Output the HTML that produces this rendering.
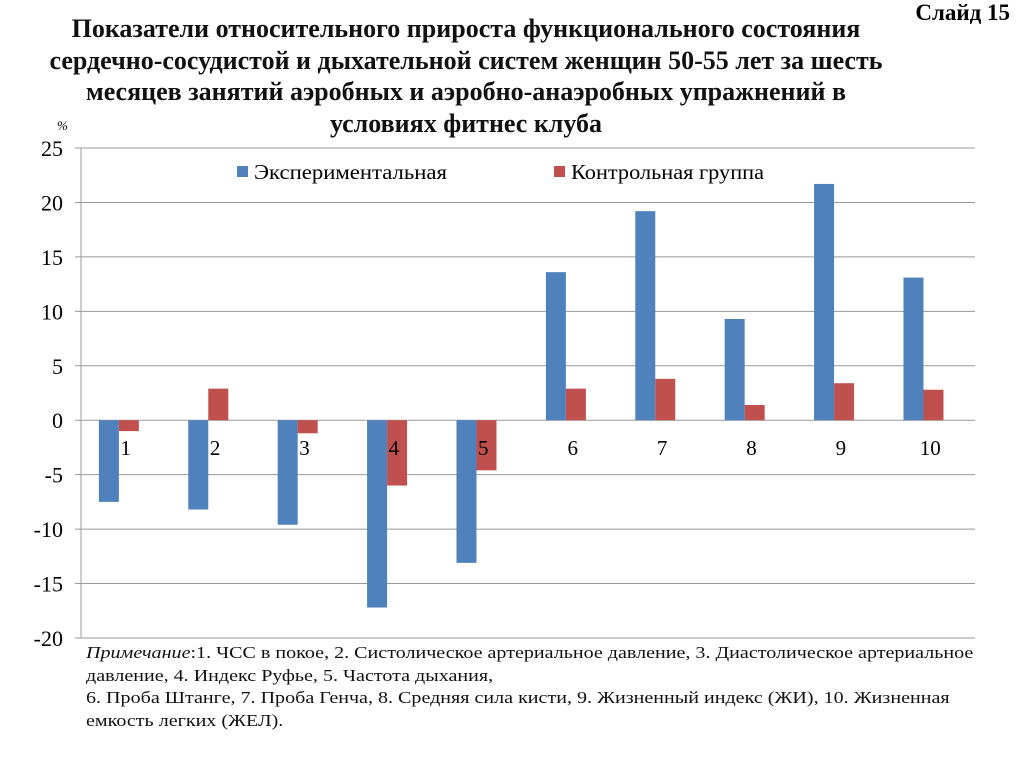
<!DOCTYPE html>
<html><head><meta charset="utf-8"><style>
body{margin:0;width:1024px;height:767px;background:#fff;overflow:hidden;font-family:"Liberation Serif",serif}
svg{position:absolute;left:0;top:0}
.title{position:absolute;left:0;top:13px;width:932px;text-align:center;font-weight:bold;font-size:26px;line-height:31.5px;color:#111;white-space:nowrap}
.slide{position:absolute;right:14px;top:0px;font-weight:bold;font-size:23px}
.note{position:absolute;left:86px;top:642px;width:760px;font-size:17px;line-height:22.5px;color:#111;white-space:nowrap;transform:scaleX(1.18);transform-origin:0 0}
</style></head><body>
<div class="title">Показатели относительного прироста функционального состояния<br>сердечно-сосудистой и дыхательной систем женщин 50-55 лет  за шесть<br>месяцев занятий аэробных и аэробно-анаэробных упражнений в<br>условиях фитнес клуба</div>
<div class="slide">Слайд 15</div>
<svg id="c" width="1024" height="767"></svg>
<div class="note"><i>Примечание</i>:1. ЧСС в покое, 2. Систолическое артериальное давление, 3. Диастолическое артериальное<br>давление, 4. Индекс Руфье, 5. Частота дыхания,<br>6. Проба Штанге,  7. Проба Генча, 8. Средняя сила кисти, 9. Жизненный индекс (ЖИ), 10. Жизненная<br>емкость легких (ЖЕЛ).</div>
<script>
const categories=["1","2","3","4","5","6","7","8","9","10"];
const experimental=[-7.5,-8.2,-9.6,-17.2,-13.1,13.6,19.2,9.3,21.7,13.1];
const control=[-1.0,2.9,-1.2,-6.0,-4.6,2.9,3.8,1.4,3.4,2.8];
const yTicks=[25,20,15,10,5,0,-5,-10,-15,-20];
const NS="http://www.w3.org/2000/svg";
const svg=document.getElementById('c');
const X0=81,X1=975,Y0=148,Y1=638,VMAX=25,VMIN=-20;
const y=v=>Y0+(VMAX-v)/(VMAX-VMIN)*(Y1-Y0);
const cw=(X1-X0)/categories.length;
const x=i=>X0+i*cw;
function mk(t,a){const e=document.createElementNS(NS,t);for(const k in a)e.setAttribute(k,a[k]);svg.appendChild(e);return e;}
yTicks.forEach(t=>{
 const l=mk('line',{x1:75,x2:X1,y1:y(t),y2:y(t),stroke:'#999','stroke-width':1});
 
 
 const tx=mk('text',{x:63,y:y(t)+8,'text-anchor':'end','font-size':22,'font-family':'Liberation Serif'});
 tx.textContent=t;
 
 
});
const ax=mk('line',{x1:X0,x2:X0,y1:Y0,y2:Y1,stroke:'#999'});


const pu=mk('text',{x:57,y:130,'font-size':13,'font-style':'italic','font-family':'Liberation Serif'});pu.textContent='%';


categories.forEach((c,i)=>{
 const bw=20,bx=x(i)+cw*0.2;
 const v1=experimental[i],v2=control[i];
 const b1=mk('rect',{x:bx,y:Math.min(y(v1),y(0)),width:bw,height:Math.abs(y(v1)-y(0)),fill:'#4f81bd'});
 
 
 const b2=mk('rect',{x:bx+bw,y:Math.min(y(v2),y(0)),width:bw,height:Math.abs(y(v2)-y(0)),fill:'#c0504d'});
 
 
 const t=mk('text',{x:x(i)+cw/2,y:y(0)+35,'text-anchor':'middle','font-size':21,'font-family':'Liberation Serif'});
 t.textContent=c;
 
 
});
[[237,'#4f81bd','Экспериментальная'],[554,'#c0504d','Контрольная группа']].forEach(([lx,col,txt])=>{
 const r=mk('rect',{x:lx,y:166,width:11,height:11,fill:col});
 
 
 const t=mk('text',{x:lx+17,y:179,'font-size':21,'font-family':'Liberation Serif',textLength:193,lengthAdjust:'spacingAndGlyphs'});
 t.textContent=txt;
 
 
});
</script>
</body></html>
